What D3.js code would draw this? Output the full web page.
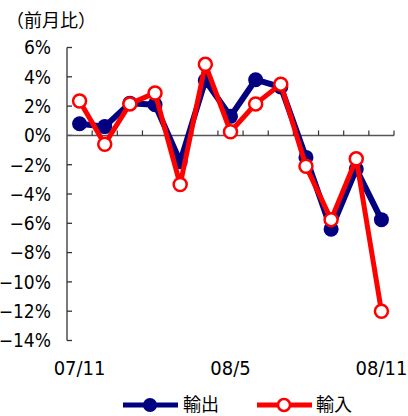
<!DOCTYPE html>
<html>
<head>
<meta charset="utf-8">
<script src="https://cdn.jsdelivr.net/npm/d3@7"></script>
<style>
  html, body { margin: 0; padding: 0; background: #fff; }
  svg { display: block; }
  .num { font-family: "Liberation Sans Narrow", "DejaVu Sans Condensed", sans-serif; font-size: 20px; fill: #000; }
  .tick { font-size: 19px; }
  .jp { font-family: "Noto Sans CJK JP", sans-serif; fill: #000; }
</style>
</head>
<body>
<svg id="chart" width="408" height="416"></svg>
<script>
// Month-on-month change (%), Nov 2007 – Nov 2008
const months = ["07/11","07/12","08/1","08/2","08/3","08/4","08/5","08/6","08/7","08/8","08/9","08/10","08/11"];
const exportsPct = [0.8, 0.6, 2.2, 2.1, -1.8, 3.75, 1.3, 3.8, 3.3, -1.5, -6.4, -2.3, -5.75];
const importsPct = [2.35, -0.6, 2.15, 2.9, -3.35, 4.85, 0.25, 2.15, 3.5, -2.1, -5.75, -1.6, -12.0];
const yTicks = [6, 4, 2, 0, -2, -4, -6, -8, -10, -12, -14];
const shownMonths = ["07/11", "08/5", "08/11"];
const seriesNames = ["輸出", "輸入"];

const svg = d3.select("#chart");
const navy = "#000080", red = "#ff0000";

const x = d3.scaleBand().domain(months).range([67, 394]).padding(0);
const y = d3.scaleLinear().domain([-14, 6]).range([340.5, 47.5]);
const cx = d => x(d) + x.bandwidth() / 2;

// title
svg.append("text").attr("class", "jp").attr("x", 6).attr("y", 27)
  .style("font-size", "18px").text("（前月比）");

// y axis: line with inward ticks
const yAxis = svg.append("g");
yAxis.append("line").attr("x1", 67).attr("x2", 67)
  .attr("y1", y(6)).attr("y2", y(-14)).attr("stroke", "#333").attr("stroke-width", 1.3);
yAxis.selectAll("line.t").data(yTicks).join("line").attr("class", "t")
  .attr("x1", 67).attr("x2", 72).attr("y1", d => y(d)).attr("y2", d => y(d))
  .attr("stroke", "#333").attr("stroke-width", 1.3);
yAxis.selectAll("text").data(yTicks).join("text").attr("class", "num tick")
  .attr("x", 51).attr("y", d => y(d)).attr("dy", "0.36em").attr("text-anchor", "end")
  .text(d => (d < 0 ? "−" + Math.abs(d) : d) + "%");

// zero line with upward ticks at month boundaries
const xAxis = svg.append("g");
xAxis.append("line").attr("x1", 67).attr("x2", 394).attr("y1", y(0)).attr("y2", y(0))
  .attr("stroke", "#555").attr("stroke-width", 1.5);
xAxis.selectAll("line.t").data(months).join("line").attr("class", "t")
  .attr("x1", d => x(d) + x.bandwidth()).attr("x2", d => x(d) + x.bandwidth())
  .attr("y1", y(0)).attr("y2", y(0) - 5).attr("stroke", "#333").attr("stroke-width", 1.2);

// month labels
svg.selectAll("text.mon").data(shownMonths).join("text").attr("class", "num mon")
  .attr("x", d => cx(d)).attr("y", 375).attr("text-anchor", "middle").text(d => d);

const line = d3.line().x((d, i) => cx(months[i])).y(d => y(d));

// exports
svg.append("path").datum(exportsPct).attr("d", line).attr("fill", "none")
  .attr("stroke", navy).attr("stroke-width", 6).attr("stroke-linejoin", "round");
svg.selectAll("circle.ex").data(exportsPct).join("circle").attr("class", "ex")
  .attr("cx", (d, i) => cx(months[i])).attr("cy", d => y(d)).attr("r", 7.5).attr("fill", navy);

// imports
svg.append("path").datum(importsPct).attr("d", line).attr("fill", "none")
  .attr("stroke", red).attr("stroke-width", 5).attr("stroke-linejoin", "round");
svg.selectAll("circle.im").data(importsPct).join("circle").attr("class", "im")
  .attr("cx", (d, i) => cx(months[i])).attr("cy", d => y(d)).attr("r", 6.5)
  .attr("fill", "#fff").attr("stroke", red).attr("stroke-width", 2.5);

// legend
const lg = svg.append("g");
const ly = 405;
lg.append("line").attr("x1", 123).attr("x2", 178).attr("y1", ly).attr("y2", ly)
  .attr("stroke", navy).attr("stroke-width", 5);
lg.append("circle").attr("cx", 150).attr("cy", ly).attr("r", 7).attr("fill", navy);
lg.append("text").attr("class", "jp").attr("x", 183).attr("y", ly + 6)
  .style("font-size", "18px").text(seriesNames[0]);
lg.append("line").attr("x1", 257).attr("x2", 312).attr("y1", ly).attr("y2", ly)
  .attr("stroke", red).attr("stroke-width", 5);
lg.append("circle").attr("cx", 284).attr("cy", ly).attr("r", 6).attr("fill", "#fff")
  .attr("stroke", red).attr("stroke-width", 2.5);
lg.append("text").attr("class", "jp").attr("x", 316).attr("y", ly + 6)
  .style("font-size", "18px").text(seriesNames[1]);
</script>
</body>
</html>
